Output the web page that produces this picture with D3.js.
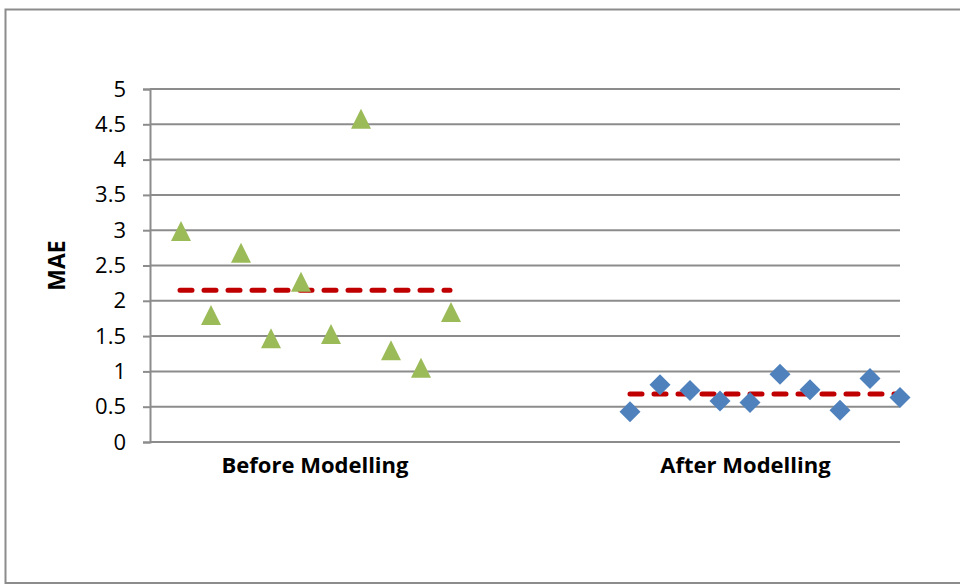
<!DOCTYPE html>
<html>
<head>
<meta charset="utf-8">
<script src="https://cdn.jsdelivr.net/npm/d3@7"></script>
<style>
  html, body { margin: 0; padding: 0; background: #ffffff; }
  svg { display: block; }
  text { font-family: "Open Sans", "Liberation Sans", sans-serif; fill: #000; }
</style>
</head>
<body>
<svg id="chart" width="960" height="585"></svg>
<script>
// MAE per run, before and after modelling
const groups = ["Before Modelling", "After Modelling"];
const beforeMAE = [2.99, 1.80, 2.68, 1.47, 2.27, 1.53, 4.58, 1.30, 1.05, 1.84];
const afterMAE  = [0.43, 0.81, 0.73, 0.58, 0.56, 0.96, 0.74, 0.45, 0.90, 0.63];
const yTicks = [0, 0.5, 1, 1.5, 2, 2.5, 3, 3.5, 4, 4.5, 5];
const yTitle = "MAE";

const svg = d3.select("#chart");

// Outer chart frame
svg.append("rect")
  .attr("x", 5.5).attr("y", 9.5)
  .attr("width", 970).attr("height", 573.5)
  .attr("fill", "none")
  .attr("stroke", "#8c8c8c")
  .attr("stroke-width", 2);

const plot = { left: 150, right: 900, top: 89, bottom: 442 };

// Runs sit on a shared slot axis: before = slots 1..10, after = slots 16..25
const afterOffset = 16;
const x = d3.scaleLinear().domain([0, 25]).range([plot.left, plot.right]);
const y = d3.scaleLinear().domain([0, 5]).range([plot.bottom, plot.top]);

// Horizontal gridlines
svg.append("g")
  .selectAll("line")
  .data(yTicks)
  .join("line")
  .attr("x1", plot.left).attr("x2", plot.right)
  .attr("y1", d => y(d)).attr("y2", d => y(d))
  .attr("stroke", "#8c8c8c")
  .attr("stroke-width", 2);

// Y axis with outside ticks
const yAxis = d3.axisLeft(y)
  .tickValues(yTicks)
  .tickFormat(d3.format("~g"))
  .tickSize(7)
  .tickPadding(17);

const yAxisG = svg.append("g")
  .attr("transform", `translate(${plot.left},0)`)
  .call(yAxis);
yAxisG.select(".domain").attr("stroke", "#8c8c8c").attr("stroke-width", 2);
yAxisG.selectAll(".tick line").attr("stroke", "#8c8c8c").attr("stroke-width", 2);
yAxisG.selectAll(".tick text")
  .attr("font-size", 22)
  .attr("font-family", "'Open Sans', 'Liberation Sans', sans-serif")
  .attr("fill", "#000");

// Y axis title
svg.append("text")
  .attr("transform", `translate(65,${(plot.top + plot.bottom) / 2}) rotate(-90)`)
  .attr("text-anchor", "middle")
  .attr("font-size", 23)
  .attr("font-weight", "bold")
  .text(yTitle);

// Group labels under the axis
const labelSlots = [5.5, 19.85];
svg.append("g")
  .selectAll("text")
  .data(groups)
  .join("text")
  .attr("x", (d, i) => x(labelSlots[i]))
  .attr("y", 473)
  .attr("text-anchor", "middle")
  .attr("font-size", 22)
  .attr("font-weight", "bold")
  .text(d => d);

// Mean lines (dashed red)
const means = [
  { slots: [1, beforeMAE.length], v: d3.mean(beforeMAE) },
  { slots: [afterOffset, afterOffset + afterMAE.length - 1], v: d3.mean(afterMAE) }
];
svg.append("g")
  .selectAll("line")
  .data(means)
  .join("line")
  .attr("x1", d => x(d.slots[0])).attr("x2", d => x(d.slots[1]))
  .attr("y1", d => y(d.v)).attr("y2", d => y(d.v))
  .attr("stroke", "#c00000")
  .attr("stroke-width", 5)
  .attr("stroke-linecap", "round")
  .attr("stroke-dasharray", "12,12");

// Before: green triangles
const tri = "M0,-10L10,10L-10,10Z";
svg.append("g")
  .selectAll("path")
  .data(beforeMAE)
  .join("path")
  .attr("d", tri)
  .attr("transform", (d, i) => `translate(${x(i + 1) + 1},${y(d)})`)
  .attr("fill", "#9bbb59");

// After: blue diamonds
const dia = "M0,-10.5L10.5,0L0,10.5L-10.5,0Z";
svg.append("g")
  .selectAll("path")
  .data(afterMAE)
  .join("path")
  .attr("d", dia)
  .attr("transform", (d, i) => `translate(${x(i + afterOffset)},${y(d)})`)
  .attr("fill", "#4f81bd");
</script>
</body>
</html>
